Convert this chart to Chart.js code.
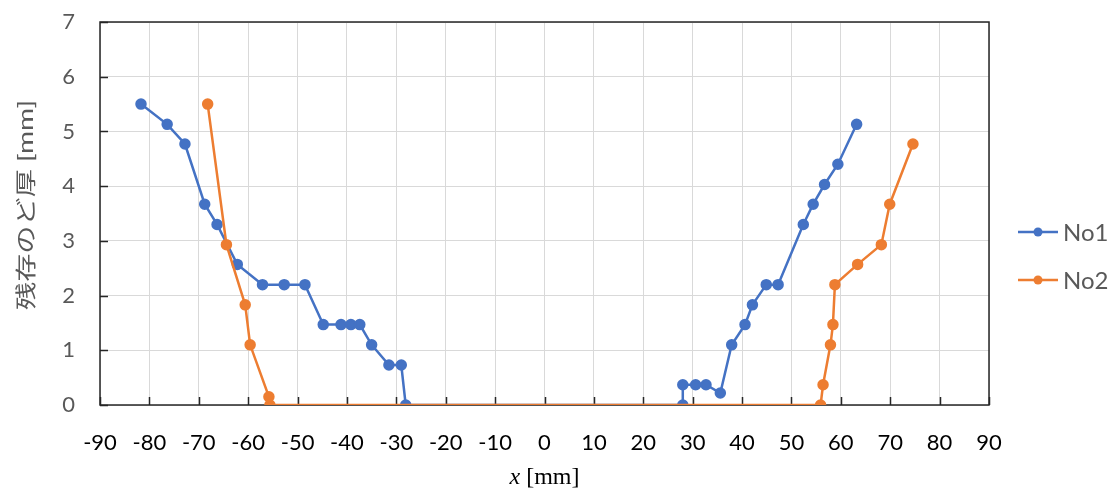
<!DOCTYPE html>
<html>
<head>
<meta charset="utf-8">
<script src="https://cdn.jsdelivr.net/npm/chart.js@4"></script>
<style>
  html, body { margin: 0; padding: 0; background: #fff; }
  #wrap { width: 1115px; height: 490px; }
</style>
</head>
<body>
<div id="wrap"><canvas id="myChart"></canvas></div>
<script>
// 測定位置 x [mm] と残存のど厚 [mm]
const xNo1 = [-81.7, -76.4, -72.8, -68.8, -66.3, -62.2, -57.1, -52.7, -48.5, -44.8, -41.2, -39.2, -37.4, -35.0, -31.5, -29.0, -28.1,
              28.0, 28.0, 30.6, 32.7, 35.6, 37.9, 40.6, 42.1, 44.9, 47.3, 52.4, 54.4, 56.7, 59.4, 63.2]
const yNo1 = [5.5, 5.13, 4.77, 3.67, 3.3, 2.57, 2.2, 2.2, 2.2, 1.47, 1.47, 1.47, 1.47, 1.1, 0.73, 0.73, 0,
              0, 0.37, 0.37, 0.37, 0.22, 1.1, 1.47, 1.83, 2.2, 2.2, 3.3, 3.67, 4.03, 4.4, 5.13]
const xNo2 = [-68.2, -64.4, -60.6, -59.6, -55.8, -55.6, 55.9, 56.4, 57.9, 58.4, 58.8, 63.4, 68.2, 69.9, 74.6]
const yNo2 = [5.5, 2.93, 1.83, 1.1, 0.15, 0, 0, 0.37, 1.1, 1.47, 2.2, 2.57, 2.93, 3.67, 4.77]

const seriesNames = ['No1', 'No2']
const xTicks = [-90, -80, -70, -60, -50, -40, -30, -20, -10, 0, 10, 20, 30, 40, 50, 60, 70, 80, 90]
const yTicks = [0, 1, 2, 3, 4, 5, 6, 7]
const yTitle = '残存のど厚 [mm]'

const toPoints = (xs, ys) => xs.map((x, i) => ({ x: x, y: ys[i] }))

const BLUE = '#4472C4'
const ORANGE = '#ED7D31'

// 外枠・内向き目盛り・軸タイトル・凡例
const frame = {
    id: 'frame',
    beforeDatasetsDraw(chart) {
        const { ctx, chartArea: a, scales } = chart
        ctx.save()
        ctx.strokeStyle = '#262626'
        ctx.lineWidth = 1.5
        ctx.beginPath()
        xTicks.forEach((v) => {
            const px = Math.round(scales.x.getPixelForValue(v)) + 0.5
            ctx.moveTo(px, a.bottom)
            ctx.lineTo(px, a.bottom - 8)
        })
        yTicks.forEach((v) => {
            const py = Math.round(scales.y.getPixelForValue(v)) + 0.5
            ctx.moveTo(a.left, py)
            ctx.lineTo(a.left + 8, py)
        })
        ctx.stroke()
        ctx.strokeRect(a.left, a.top, a.right - a.left, a.bottom - a.top)
        ctx.restore()
    },
    afterDraw(chart) {
        const { ctx, chartArea: a } = chart
        ctx.save()
        // x軸タイトル
        ctx.fillStyle = '#000'
        ctx.textBaseline = 'middle'
        ctx.font = 'italic 24px "Liberation Serif"'
        const t1 = 'x'
        const w1 = ctx.measureText(t1).width
        ctx.font = '24px "Liberation Serif"'
        const t2 = ' [mm]'
        const w2 = ctx.measureText(t2).width
        const sx = (a.left + a.right) / 2 - (w1 + w2) / 2
        ctx.font = 'italic 24px "Liberation Serif"'
        ctx.fillText(t1, sx, 478)
        ctx.font = '24px "Liberation Serif"'
        ctx.fillText(t2, sx + w1, 478)

        // y軸タイトル(縦書き方向に回転、文字送りを広げる)
        ctx.save()
        ctx.translate(26, 205)
        ctx.rotate(-Math.PI / 2)
        ctx.font = '21px Lato, "Noto Sans CJK JP"'
        const tw = ctx.measureText(yTitle).width
        ctx.scale(210 / tw, 1)
        ctx.fillStyle = '#595959'
        ctx.textAlign = 'center'
        ctx.textBaseline = 'middle'
        ctx.fillText(yTitle, 0, 0)
        ctx.restore()

        // 凡例
        const legendY = [232, 280]
        chart.data.datasets.forEach((ds, i) => {
            const y = legendY[i]
            ctx.strokeStyle = ds.borderColor
            ctx.lineWidth = 2.5
            ctx.beginPath()
            ctx.moveTo(1018, y)
            ctx.lineTo(1058, y)
            ctx.stroke()
            ctx.fillStyle = ds.backgroundColor
            ctx.beginPath()
            ctx.arc(1038, y, 4.5, 0, Math.PI * 2)
            ctx.fill()
            ctx.fillStyle = '#595959'
            ctx.font = '24px Lato'
            ctx.textAlign = 'left'
            ctx.textBaseline = 'middle'
            ctx.fillText(ds.label, 1063, y + 1)
        })
        ctx.restore()
    }
}

const data = {
    datasets: [{
        label: seriesNames[0],
        data: toPoints(xNo1, yNo1),
        showLine: true,
        borderColor: BLUE,
        backgroundColor: BLUE,
        borderWidth: 2.5,
        pointRadius: 4.5,
        pointHoverRadius: 4.5,
        order: 2
    }, {
        label: seriesNames[1],
        data: toPoints(xNo2, yNo2),
        showLine: true,
        borderColor: ORANGE,
        backgroundColor: ORANGE,
        borderWidth: 2.5,
        pointRadius: 4.5,
        pointHoverRadius: 4.5,
        order: 1
    }]
}

const config = {
    type: 'scatter',
    data: data,
    plugins: [frame],
    options: {
        responsive: false,
        animation: false,
        devicePixelRatio: 1,
        layout: { padding: { top: 22, right: 126, left: 0, bottom: 0 } },
        plugins: {
            legend: { display: false },
            tooltip: { enabled: false }
        },
        scales: {
            x: {
                type: 'linear',
                min: -90,
                max: 90,
                afterBuildTicks: (s) => { s.ticks = xTicks.map((v) => ({ value: v })) },
                afterFit: (s) => {
                    s.height = 85
                    s.paddingLeft = 0
                    s.paddingRight = 0
                },
                grid: { color: '#d9d9d9', lineWidth: 1, drawTicks: false },
                border: { display: false },
                ticks: {
                    padding: 25,
                    color: '#000',
                    font: { family: 'Lato', size: 22 },
                    maxRotation: 0
                }
            },
            y: {
                type: 'linear',
                min: 0,
                max: 7,
                afterBuildTicks: (s) => { s.ticks = yTicks.map((v) => ({ value: v })) },
                afterFit: (s) => {
                    s.width = 100
                    s.paddingTop = 0
                    s.paddingBottom = 0
                },
                grid: { color: '#d9d9d9', lineWidth: 1, drawTicks: false },
                border: { display: false },
                ticks: {
                    padding: 25,
                    color: '#595959',
                    font: { family: 'Lato', size: 22 }
                }
            }
        }
    }
}

const canvas = document.getElementById('myChart')
canvas.width = 1115
canvas.height = 490
new Chart(canvas, config)
</script>
</body>
</html>
